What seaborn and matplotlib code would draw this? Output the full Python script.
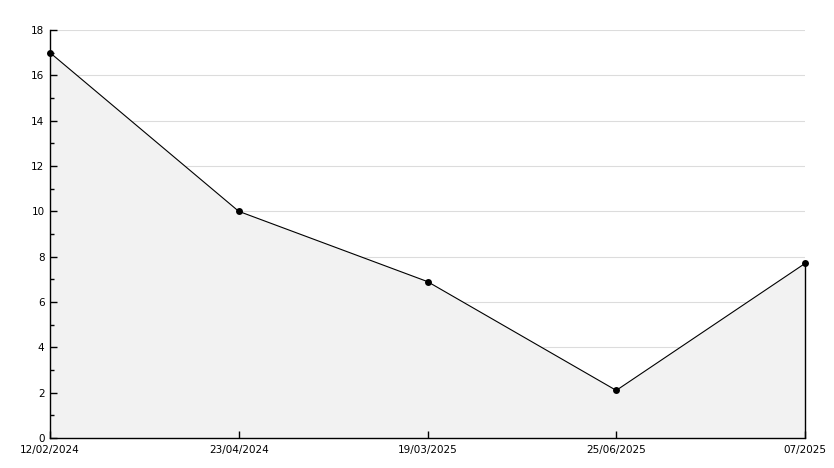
import numpy as np
import pandas as pd
import seaborn as sns
import matplotlib
matplotlib.use("Agg")
import matplotlib.pyplot as plt
from matplotlib.ticker import MultipleLocator

dates = ["12/02/2024", "23/04/2024", "19/03/2025", "25/06/2025", "07/2025"]
values = [17.0, 10.0, 6.9, 2.1, 7.7]

sns.set_theme(style="white")
plt.rcParams['font.family'] = ['DejaVu Sans']

df = pd.DataFrame({"pos": np.arange(len(dates)), "value": values})

fig = plt.figure(figsize=(8.34, 4.68), dpi=100)
ax = fig.add_axes([50 / 834, 30 / 468, 755 / 834, 408 / 468])

# grid under the fill, ticks above it
ax.hlines(np.arange(2, 19, 2), 0, len(dates) - 1, color="#dcdcdc", lw=0.8, zorder=0.5)
ax.fill_between(df["pos"], df["value"], 0, color="#f2f2f2", edgecolor="none", zorder=1)
ax.plot([df["pos"].iloc[-1]] * 2, [0, df["value"].iloc[-1]], color="black", lw=1,
        zorder=2, clip_on=False)
sns.lineplot(data=df, x="pos", y="value", ax=ax, color="black", lw=0.8,
             marker="o", markersize=5, markeredgewidth=0, zorder=3, clip_on=False)

ax.set_xlim(0, len(dates) - 1)
ax.set_ylim(0, 18)
ax.set_xticks(df["pos"])
ax.set_xticklabels(dates)
ax.yaxis.set_major_locator(MultipleLocator(2))
ax.yaxis.set_minor_locator(MultipleLocator(1))
ax.grid(False)
ax.set_axisbelow(False)

for s in ["top", "right"]:
    ax.spines[s].set_visible(False)
for s in ["left", "bottom"]:
    ax.spines[s].set_color("black")
    ax.spines[s].set_linewidth(1)

ax.tick_params(axis="y", which="major", direction="in", length=5, width=1, color="black",
               labelsize=7.5, labelcolor="black", left=True, pad=4)
ax.tick_params(axis="y", which="minor", direction="in", length=3, width=1, color="black", left=True)
ax.tick_params(axis="x", which="major", direction="in", length=5, width=1, color="black",
               labelsize=7.5, labelcolor="black", bottom=True, pad=5)
ax.set_xlabel("")
ax.set_ylabel("")

fig.savefig("out.png", dpi=100, facecolor="white")
